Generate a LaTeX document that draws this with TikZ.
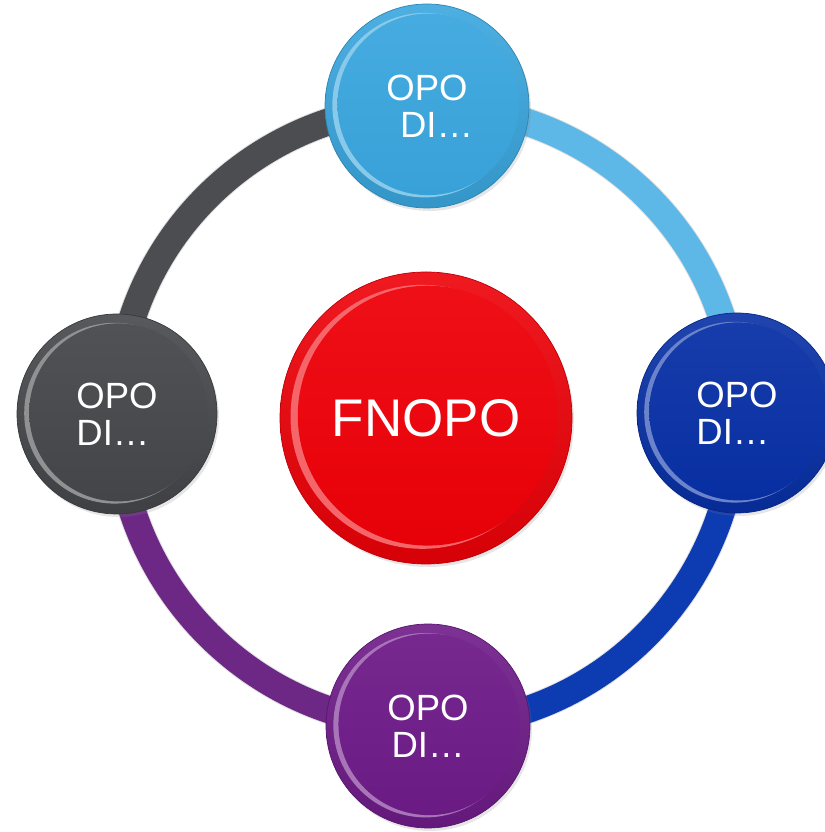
\documentclass[tikz,border=0pt]{standalone}
\usepackage{fontspec}
\setmainfont{Liberation Sans}
\usetikzlibrary{backgrounds,shadows}
\definecolor{nodeLB}{HTML}{3AA6DE}
\definecolor{nodeDB}{HTML}{0830A6}
\definecolor{nodePU}{HTML}{6E1B88}
\definecolor{nodeGR}{HTML}{46474B}
\definecolor{nodeRD}{HTML}{EE0008}
\definecolor{ringLB}{HTML}{5DB8E7}
\definecolor{ringDB}{HTML}{0C3BB2}
\definecolor{ringPU}{HTML}{6D2886}
\definecolor{ringGR}{HTML}{4C4D51}
\tikzset{
  bubble/.style 2 args={circle, minimum size=#2, inner sep=0pt, text=white,
    draw=#1!80!black, line width=0.7pt,
    top color=#1!90!white, bottom color=#1!90!black,
    drop shadow={opacity=0.2, shadow xshift=2pt, shadow yshift=-3pt},
    path picture={
      \fill[#1!60!white] ([shift={(-0.012*#2,0.004*#2)}]path picture bounding box.center) circle[radius=0.452*#2];
      \shade[top color=#1!94!white, bottom color=#1!97!black]
        ([shift={(0.006*#2,0.008*#2)}]path picture bounding box.center) circle[radius=0.445*#2];
    }},
  small/.style={font=\fontsize{36.5}{37}\selectfont},
  big/.style={font=\fontsize{53}{55}\selectfont},
  ringseg/.style={line width=27pt, draw=#1},
  ringshadow/.style={line width=29pt, draw=black, opacity=0.12}
}
\begin{document}
\begin{tikzpicture}[x=1pt,y=1pt]
\useasboundingbox (0,0) rectangle (824,832);
\node[bubble={nodeRD}{292pt}, big] (C) at (426,414) {FNOPO};
\node[bubble={nodeLB}{204pt}, small, align=center] (T) at (427,726) {OPO\\\hspace*{19pt}DI…};
\node[bubble={nodeGR}{200pt}, small, align=left] (L) at (117,418) {OPO\\DI…};
\node[bubble={nodeDB}{200pt}, small, align=left] (R) at (737,419) {OPO\\DI…};
\node[bubble={nodePU}{204pt}, small, align=center] (B) at (428,106) {OPO\\DI…};
\begin{pgfonlayer}{background}
  \begin{scope}[shift={(1.5,-2)}]
    \draw[ringshadow] (L.center) to[out=90,in=180] (T.center);
    \draw[ringshadow] (T.center) to[out=0,in=90] (R.center);
    \draw[ringshadow] (R.center) to[out=-90,in=0] (B.center);
    \draw[ringshadow] (B.center) to[out=180,in=-90] (L.center);
  \end{scope}
  \draw[ringseg=ringGR] (L.center) to[out=90,in=180] (T.center);
  \draw[ringseg=ringLB] (T.center) to[out=0,in=90] (R.center);
  \draw[ringseg=ringDB] (R.center) to[out=-90,in=0] (B.center);
  \draw[ringseg=ringPU] (B.center) to[out=180,in=-90] (L.center);
\end{pgfonlayer}
\end{tikzpicture}
\end{document}
